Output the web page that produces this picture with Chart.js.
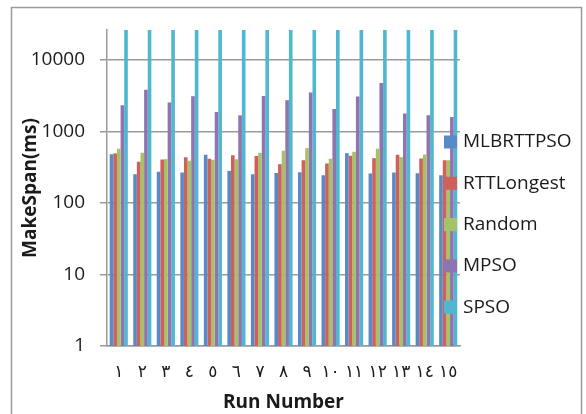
<!DOCTYPE html>
<html>
<head>
<meta charset="utf-8">
<script src="https://cdn.jsdelivr.net/npm/chart.js@4/dist/chart.umd.min.js"></script>
<style>
  html, body { margin: 0; padding: 0; background: #fff; }
  canvas { display: block; }
</style>
</head>
<body>
<canvas id="makespanChart" width="586" height="414"></canvas>
<script>
// run labels (Arabic-Indic digits as in the source)
var runs = ['١','٢','٣','٤','٥','٦','٧','٨','٩','١٠','١١','١٢','١٣','١٤','١٥'];

// makespan values (ms)
var mlbrttpso = [479, 251, 271, 265, 469, 280, 251, 262, 268, 243, 495, 257, 265, 259, 243];
var rttLongest = [490, 374, 404, 435, 412, 464, 450, 347, 395, 355, 454, 421, 469, 417, 395];
var randomAlloc = [570, 500, 408, 386, 399, 408, 500, 534, 582, 412, 517, 570, 435, 474, 395];
var mpso = [2310, 3790, 2520, 3090, 1860, 1670, 3120, 2720, 3480, 2050, 3060, 4710, 1770, 1670, 1580];
// SPSO runs past the top of the axis in every run
var spso = [100000, 100000, 100000, 100000, 100000, 100000, 100000, 100000, 100000, 100000, 100000, 100000, 100000, 100000, 100000];

var seriesNames = ['MLBRTTPSO', 'RTTLongest', 'Random', 'MPSO', 'SPSO'];
var seriesColors = ['#5a8ac6', '#d0605a', '#a6c266', '#8f75b0', '#4fb7d0'];
var yTicks = [1, 10, 100, 1000, 10000];

var allSeries = [mlbrttpso, rttLongest, randomAlloc, mpso, spso];
var datasets = allSeries.map(function(vals, i) {
  return {
    label: seriesNames[i],
    data: vals,
    backgroundColor: seriesColors[i],
    borderWidth: 0,
    barPercentage: 1,
    categoryPercentage: 0.77
  };
});

// outer frame and legend drawn the way the spreadsheet does it
var framePlugin = {
  id: 'frame',
  beforeDraw: function(chart) {
    var ctx = chart.ctx;
    ctx.save();
    ctx.fillStyle = '#fff';
    ctx.fillRect(0, 0, chart.width, chart.height);
    ctx.strokeStyle = '#9a9a9a';
    ctx.lineWidth = 1.5;
    ctx.strokeRect(11.5, 7.5, 570, 412);
    ctx.restore();
  },
  afterDraw: function(chart) {
    var ctx = chart.ctx;
    ctx.save();
    ctx.font = '19px "Open Sans"';
    ctx.textBaseline = 'middle';
    ctx.textAlign = 'left';
    chart.data.datasets.forEach(function(ds, i) {
      var cy = 142 + i * 41.3;
      ctx.fillStyle = ds.backgroundColor;
      ctx.fillRect(444, cy - 6.5, 13, 13);
      ctx.fillStyle = '#1a1a1a';
      ctx.fillText(ds.label, 463, cy);
    });
    ctx.restore();
  }
};

var ctx = document.getElementById('makespanChart').getContext('2d');
new Chart(ctx, {
  type: 'bar',
  data: { labels: runs, datasets: datasets },
  plugins: [framePlugin],
  options: {
    responsive: false,
    animation: false,
    devicePixelRatio: 1,
    layout: { padding: { left: 0, right: 126, top: 30, bottom: 0 } },
    plugins: {
      legend: { display: false },
      tooltip: { enabled: false }
    },
    scales: {
      x: {
        grid: { display: false, drawTicks: false },
        border: { display: true, color: '#9a9a9a', width: 1.5 },
        ticks: {
          font: { family: '"DejaVu Sans"', size: 17 },
          color: '#1a1a1a',
          padding: 16,
          maxRotation: 0,
          autoSkip: false
        },
        title: {
          display: true,
          text: 'Run Number',
          font: { family: '"Open Sans"', size: 19, weight: 'bold' },
          color: '#1a1a1a',
          padding: { top: 0, bottom: 0 }
        },
        afterFit: function(scale) { scale.height = 68; }
      },
      y: {
        type: 'logarithmic',
        min: 1,
        max: 26000,
        afterBuildTicks: function(scale) {
          scale.ticks = yTicks.map(function(v) { return { value: v }; });
        },
        grid: { color: '#9a9a9a', lineWidth: 1.5, tickLength: 7 },
        border: { display: true, color: '#9a9a9a', width: 1.5 },
        ticks: {
          font: { family: '"Open Sans"', size: 19 },
          color: '#1a1a1a',
          padding: 15,
          callback: function(v) { return String(v); }
        },
        title: {
          display: true,
          text: 'MakeSpan(ms)',
          font: { family: '"Open Sans"', size: 19, weight: 'bold' },
          color: '#1a1a1a',
          padding: { top: 19, bottom: 0 }
        },
        afterFit: function(scale) { scale.width = 107; }
      }
    }
  }
});
</script>
</body>
</html>
